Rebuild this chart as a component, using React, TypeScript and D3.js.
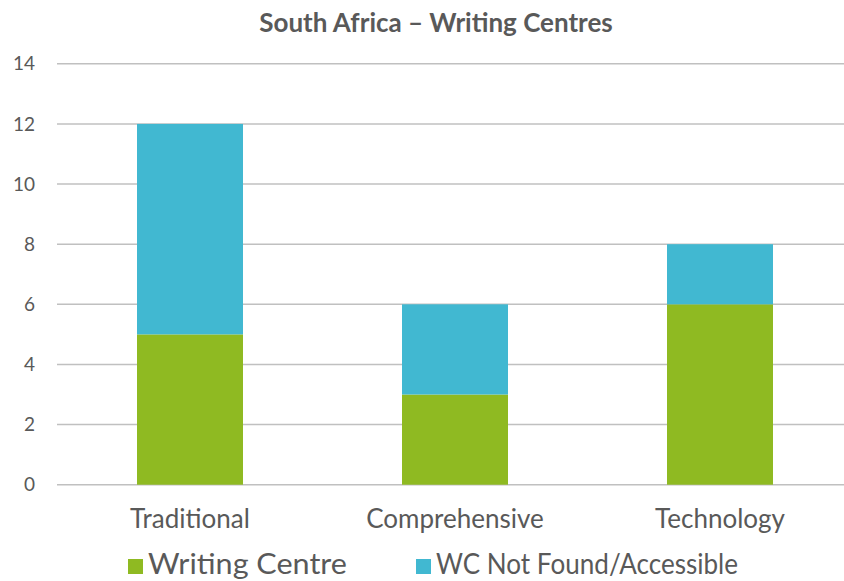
import React from "react";
import * as d3 from "d3";

const categories = ["Traditional", "Comprehensive", "Technology"];
const writingCentre = [5, 3, 6];
const wcNotFound = [7, 3, 2];
const seriesNames = ["Writing Centre", "WC Not Found/Accessible"];
const yTicks = [0, 2, 4, 6, 8, 10, 12, 14];

const W = 844;
const H = 581;
const colors = ["#8fba22", "#41b8d1"];
const textColor = "#595959";
const font = "Lato, 'Open Sans', sans-serif";

export default function App() {
  const x = d3.scaleBand<string>().domain(categories).range([57.5, 852.5]).paddingInner(0.6).paddingOuter(0.3);
  const y = d3.scaleLinear().domain([0, 14]).range([484.7, 63.8]);

  const rows = categories.map((c, i) => ({ cat: c, wc: writingCentre[i], nf: wcNotFound[i] }));
  const stack = d3.stack<any>().keys(["wc", "nf"])(rows);

  return (
    <svg width={W} height={H} style={{ position: "absolute", left: 0, top: 0, background: "#fff" }} fontFamily={font}>
      <text x={436} y={32} textAnchor="middle" fontSize={26} fontWeight="bold" fill={textColor}>
        South Africa – Writing Centres
      </text>
      {yTicks.map((t) => (
        <g key={t}>
          <line x1={57} x2={W} y1={y(t)} y2={y(t)} stroke="#c0c0c0" strokeWidth={1.5} />
          <text x={35} y={y(t)} dy="0.35em" textAnchor="end" fontSize={19} fill={textColor}>
            {t}
          </text>
        </g>
      ))}
      {stack.map((s, si) => (
        <g key={si} fill={colors[si]}>
          {s.map((d, i) => (
            <rect
              key={i}
              x={x(categories[i])}
              width={x.bandwidth()}
              y={y(d[1])}
              height={y(d[0]) - y(d[1])}
            />
          ))}
        </g>
      ))}
      {categories.map((c) => (
        <text key={c} x={(x(c) as number) + x.bandwidth() / 2} y={528} textAnchor="middle" fontSize={26} fill={textColor}>
          {c}
        </text>
      ))}
      <g>
        <rect x={128} y={559} width={15} height={15} fill={colors[0]} />
        <text x={148} y={574} fontSize={28} fill={textColor} textLength={199} lengthAdjust="spacingAndGlyphs">{seriesNames[0]}</text>
        <rect x={416} y={559} width={15} height={15} fill={colors[1]} />
        <text x={436} y={574} fontSize={28} fill={textColor} textLength={302} lengthAdjust="spacingAndGlyphs">{seriesNames[1]}</text>
      </g>
    </svg>
  );
}
